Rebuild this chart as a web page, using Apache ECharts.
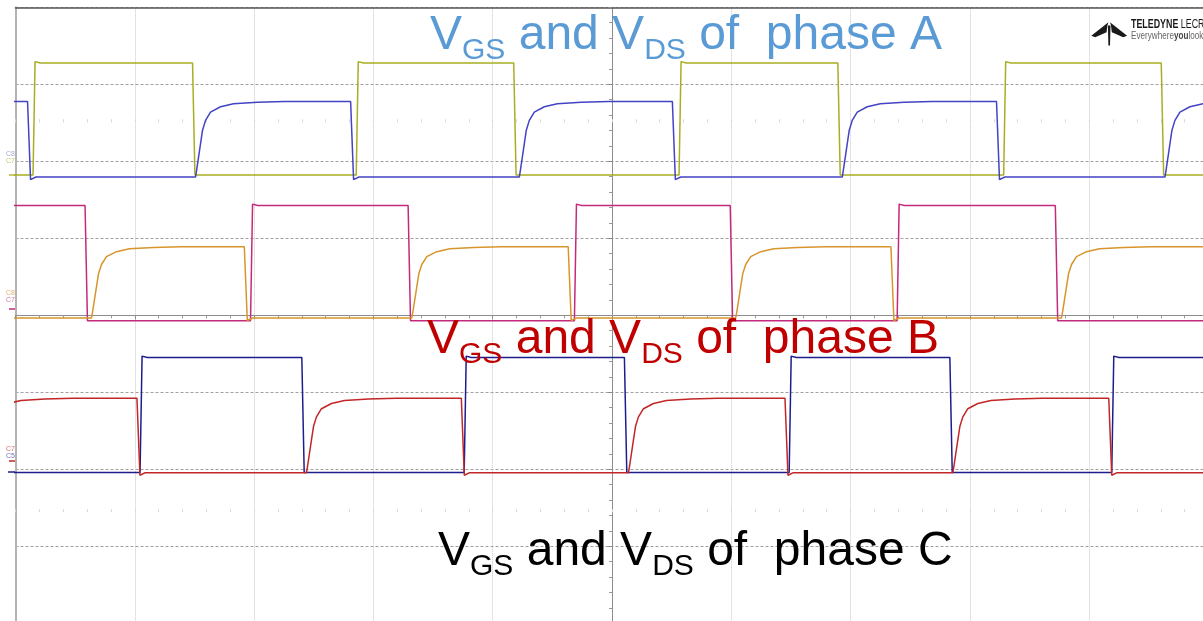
<!DOCTYPE html>
<html>
<head>
<meta charset="utf-8">
<script src="https://cdn.jsdelivr.net/npm/echarts@6/dist/echarts.min.js"></script>
<style>
  html, body { margin: 0; padding: 0; background: #ffffff; }
  #scope { width: 1203px; height: 621px; }
</style>
</head>
<body>
<div id="scope"></div>
<script>
// Screen is 10 horizontal by 8 vertical divisions, centre at (0, 0).
const xDivRange = [-5, 5];
const yDivRange = [-4, 4];

// Phase A: gate-source (VGS) and drain-source (VDS) switching edges, in divisions
const phaseA_vgsRise = [-4.853, -2.144, 0.562, 3.283];
const phaseA_vgsFall = [-3.516, -0.824, 1.893, 4.604];
const phaseA_vgsLevels = [1.822, 3.277];          // [off, on]
const phaseA_vdsFall = [-4.899, -2.191, 0.506, 3.223];
const phaseA_vdsRise = [-3.491, -0.777, 1.930, 4.635];
const phaseA_vdsLevels = [1.796, 2.777];

// Phase B
const phaseB_vgsRise = [-3.030, -0.315, 2.390];
const phaseB_vgsFall = [-4.417, -1.709, 0.991, 3.716];
const phaseB_vgsLevels = [-0.070, 1.426];
const phaseB_vdsFall = [-3.082, -0.367, 2.338];
const phaseB_vdsRise = [-4.363, -1.678, 1.037, 3.768];
const phaseB_vdsLevels = [-0.035, 0.891];

// Phase C
const phaseC_vgsRise = [-3.956, -1.239, 1.485, 4.189];
const phaseC_vgsFall = [-2.600, 0.104, 2.832];
const phaseC_vgsLevels = [-2.042, -0.548];
const phaseC_vdsFall = [-3.982, -1.263, 1.450, 4.164];
const phaseC_vdsRise = [-5.273, -2.561, 0.138, 2.857];
const phaseC_vdsLevels = [-2.044, -1.078];

// Edge shapes: [time after edge (div), fraction of off->on swing]
const gateRiseShape = [[0, 0], [0.017, 1.012], [0.06, 1]];
const gateFallShape = [[0, 1], [0.02, 0]];
const dsFallShape = [[0, 1], [0.025, -0.035], [0.07, 0]];
const dsRecoveryShape = [
  [0, 0], [0.0084, 0.08], [0.0335, 0.35], [0.0587, 0.62], [0.0838, 0.75],
  [0.1257, 0.86], [0.2096, 0.93], [0.3185, 0.97], [0.5197, 0.99], [0.75, 1]
];

const channelLabels = [
  { text: 'C8', x: 6, y: 151, color: '#a9a9d6' },
  { text: 'C7', x: 6, y: 158, color: '#c6c66e' },
  { text: 'C8', x: 6, y: 290, color: '#e2b071' },
  { text: 'C7', x: 6, y: 297, color: '#d77aa6' },
  { text: 'C7', x: 6, y: 446, color: '#d27272' },
  { text: 'C5', x: 6, y: 453, color: '#7373c2' }
];

function buildTrace(rises, falls, levels, riseShape, fallShape) {
  const lo = levels[0], span = levels[1] - levels[0];
  const edges = rises.map(t => [t, riseShape])
    .concat(falls.map(t => [t, fallShape]))
    .sort((a, b) => a[0] - b[0]);
  const pts = [];
  const startFrac = edges[0][1] === riseShape ? 0 : 1;
  pts.push([xDivRange[0] - 0.5, lo + startFrac * span]);
  edges.forEach(([t, shape]) => {
    shape.forEach(([dt, f]) => pts.push([t + dt, lo + f * span]));
  });
  const lastShape = edges[edges.length - 1][1];
  pts.push([xDivRange[1] + 0.5, lo + lastShape[lastShape.length - 1][1] * span]);
  return pts;
}

function wave(name, color, data) {
  return {
    name, type: 'line', data, xAxisIndex: 0, yAxisIndex: 0,
    showSymbol: false, symbol: 'none', clip: true, z: 5,
    lineStyle: { color, width: 1.5 },
    emphasis: { disabled: true }
  };
}

const series = [
  wave('Phase A VGS', '#a8ae22', buildTrace(phaseA_vgsRise, phaseA_vgsFall, phaseA_vgsLevels, gateRiseShape, gateFallShape)),
  wave('Phase A VDS', '#4343c6', buildTrace(phaseA_vdsRise, phaseA_vdsFall, phaseA_vdsLevels, dsRecoveryShape, dsFallShape)),
  wave('Phase B VGS', '#c42a7c', buildTrace(phaseB_vgsRise, phaseB_vgsFall, phaseB_vgsLevels, gateRiseShape, gateFallShape)),
  wave('Phase B VDS', '#d8952c', buildTrace(phaseB_vdsRise, phaseB_vdsFall, phaseB_vdsLevels, dsRecoveryShape, dsFallShape)),
  wave('Phase C VGS', '#1d1d8e', buildTrace(phaseC_vgsRise, phaseC_vgsFall, phaseC_vgsLevels, gateRiseShape, gateFallShape)),
  wave('Phase C VDS', '#c22626', buildTrace(phaseC_vdsRise, phaseC_vdsFall, phaseC_vdsLevels, dsRecoveryShape, dsFallShape))
];

const titleFont = "'Liberation Sans', Arial, Helvetica, sans-serif";
function phaseTitle(letter, color, left, top) {
  return {
    type: 'text', left, top, z: 100,
    style: {
      text: '{m|V}{s|GS}{m| and V}{s|DS}{m| of  phase ' + letter + '}',
      rich: {
        m: { fontSize: 48, fontFamily: titleFont, fill: color, lineHeight: 60 },
        s: { fontSize: 30, fontFamily: titleFont, fill: color, lineHeight: 28, verticalAlign: 'bottom' }
      }
    }
  };
}

const brandFont = "'Liberation Sans', Arial, sans-serif";
const graphics = [
  phaseTitle('A', '#5b9bd5', 430, 12),
  phaseTitle('B', '#c00000', 427, 316),
  phaseTitle('C', '#000000', 438, 528),
  // Teledyne LeCroy mark
  { type: 'polygon', z: 100, shape: { points: [[1108.4, 22.3], [1091.3, 35.8], [1095.2, 37.2], [1106.6, 32.2], [1107.4, 25.5]] }, style: { fill: '#1a1a1a' } },
  { type: 'polygon', z: 100, shape: { points: [[1110.0, 22.3], [1127.1, 35.8], [1123.2, 37.2], [1111.8, 32.2], [1111.0, 25.5]] }, style: { fill: '#1a1a1a' } },
  { type: 'polygon', z: 100, shape: { points: [[1107.9, 25.5], [1110.5, 25.5], [1110.0, 45.5], [1108.4, 45.5]] }, style: { fill: '#1a1a1a' } },
  {
    type: 'text', x: 1131, y: 19, scaleX: 0.74, z: 100,
    style: {
      x: 0, y: 0,
      text: '{b|TELEDYNE}{r| LECROY}',
      rich: {
        b: { fontSize: 12, fontWeight: 'bold', fontFamily: brandFont, fill: '#1a1a1a' },
        r: { fontSize: 12, fontFamily: brandFont, fill: '#1a1a1a' }
      }
    }
  },
  {
    type: 'text', x: 1131, y: 30.5, scaleX: 0.74, z: 100,
    style: {
      x: 0, y: 0,
      text: '{r|Everywhere}{b|you}{r|look}',
      rich: {
        b: { fontSize: 11, fontWeight: 'bold', fontFamily: brandFont, fill: '#444444' },
        r: { fontSize: 11, fontFamily: brandFont, fill: '#666666' }
      }
    }
  },
  // trace ground markers at the left edge
  { type: 'line', shape: { x1: 9, y1: 175, x2: 15, y2: 175 }, style: { stroke: '#b4b832', lineWidth: 1.5 } },
  { type: 'line', shape: { x1: 9, y1: 309, x2: 15, y2: 309 }, style: { stroke: '#c42a7c', lineWidth: 1.5 } },
  { type: 'line', shape: { x1: 9, y1: 461, x2: 15, y2: 461 }, style: { stroke: '#c22626', lineWidth: 1.5 } },
  { type: 'line', shape: { x1: 8, y1: 472, x2: 15, y2: 472 }, style: { stroke: '#1d1d8e', lineWidth: 1.5 } }
].concat(channelLabels.map(c => ({
  type: 'text', left: c.x, top: c.y, z: 100,
  style: { text: c.text, fontSize: 7, fontFamily: titleFont, fill: c.color }
})));

const hidden = { show: false };
const option = {
  animation: false,
  backgroundColor: '#ffffff',
  grid: { left: 15.5, top: 7.3, width: 1193, height: 616, show: false, outerBoundsMode: 'none' },
  xAxis: [
    {
      type: 'value', min: xDivRange[0], max: xDivRange[1], interval: 1,
      axisLine: { show: true, onZero: true, lineStyle: { color: '#8c8c8c', width: 1 } },
      axisTick: { show: true, length: 4, lineStyle: { color: '#8c8c8c' } },
      minorTick: { show: true, splitNumber: 5, length: 3, lineStyle: { color: '#9a9a9a' } },
      axisLabel: hidden,
      splitLine: { show: true, lineStyle: { color: '#c6c6c6', type: 'dotted', width: 1 } }
    },
    {
      type: 'value', position: 'top', min: xDivRange[0], max: xDivRange[1], interval: 1,
      axisLine: { show: true, onZero: false, lineStyle: { color: '#555555', width: 1.5 } },
      axisTick: hidden, axisLabel: hidden, splitLine: hidden
    },
    {
      type: 'value', position: 'top', offset: -115, min: xDivRange[0], max: xDivRange[1], interval: 1,
      axisLine: { show: false, onZero: false },
      axisTick: { show: true, length: 3, lineStyle: { color: '#d6d6d6' } },
      minorTick: { show: true, splitNumber: 5, length: 3, lineStyle: { color: '#d6d6d6' } },
      axisLabel: hidden, splitLine: hidden
    },
    {
      type: 'value', position: 'bottom', offset: -114, min: xDivRange[0], max: xDivRange[1], interval: 1,
      axisLine: { show: false, onZero: false },
      axisTick: { show: true, length: 3, lineStyle: { color: '#d6d6d6' } },
      minorTick: { show: true, splitNumber: 5, length: 3, lineStyle: { color: '#d6d6d6' } },
      axisLabel: hidden, splitLine: hidden
    }
  ],
  yAxis: [
    {
      type: 'value', min: yDivRange[0], max: yDivRange[1], interval: 1,
      axisLine: { show: true, onZero: true, lineStyle: { color: '#8c8c8c', width: 1 } },
      axisTick: { show: true, length: 4, lineStyle: { color: '#8c8c8c' } },
      minorTick: { show: true, splitNumber: 5, length: 3, lineStyle: { color: '#9a9a9a' } },
      axisLabel: hidden,
      splitLine: { show: true, lineStyle: { color: '#a0a0a0', type: [3, 2], width: 1 } }
    },
    {
      type: 'value', position: 'left', min: yDivRange[0], max: yDivRange[1], interval: 1,
      axisLine: { show: true, onZero: false, lineStyle: { color: '#b4b4b4', width: 2 } },
      axisTick: hidden, axisLabel: hidden, splitLine: hidden
    }
  ],
  series,
  graphic: graphics
};

const chart = echarts.init(document.getElementById('scope'), null, { renderer: 'canvas' });
chart.setOption(option);
</script>
</body>
</html>
